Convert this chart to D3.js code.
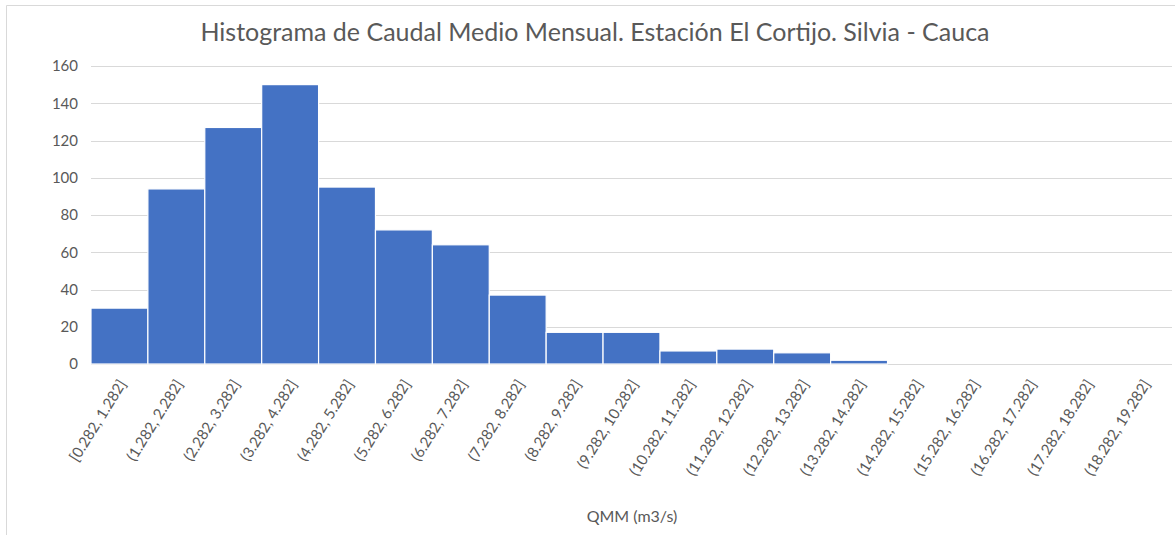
<!DOCTYPE html>
<meta charset="utf-8">
<script src="https://d3js.org/d3.v7.min.js"></script>
<style>
body { margin: 0; background: #fff; }
svg { font-family: "Lato", "Open Sans", sans-serif; }
</style>
<svg id="chart" width="1175" height="535"></svg>
<script>
// bin labels and counts
const bins = ["[0.282, 1.282]", "(1.282, 2.282]", "(2.282, 3.282]", "(3.282, 4.282]",
  "(4.282, 5.282]", "(5.282, 6.282]", "(6.282, 7.282]", "(7.282, 8.282]",
  "(8.282, 9.282]", "(9.282, 10.282]", "(10.282, 11.282]", "(11.282, 12.282]",
  "(12.282, 13.282]", "(13.282, 14.282]", "(14.282, 15.282]", "(15.282, 16.282]",
  "(16.282, 17.282]", "(17.282, 18.282]", "(18.282, 19.282]"];
const counts = [30, 94, 127, 150, 95, 72, 64, 37, 17, 17, 7, 8, 6, 2, 0, 0, 0, 0, 0];
const yTicks = [0, 20, 40, 60, 80, 100, 120, 140, 160];

const svg = d3.select("#chart");
const margin = {top: 66, left: 91, right: 3, bottom: 171};
const width = 1175, height = 535;

// chart border (only top and left visible in the crop)
svg.append("path")
  .attr("d", `M6.5,${height} V5.5 H${width}`)
  .attr("fill", "none").attr("stroke", "#d9d9d9");

const x = d3.scaleBand()
  .domain(bins)
  .range([margin.left, width - margin.right])
  .padding(0);

const y = d3.scaleLinear()
  .domain([0, 160])
  .range([height - margin.bottom, margin.top]);

// gridlines
svg.append("g")
  .selectAll("line")
  .data(yTicks)
  .join("line")
  .attr("x1", margin.left).attr("x2", width - margin.right)
  .attr("y1", d => Math.round(y(d)) + 0.5).attr("y2", d => Math.round(y(d)) + 0.5)
  .attr("stroke", "#d9d9d9").attr("stroke-width", 1);

// y labels
svg.append("g")
  .selectAll("text")
  .data(yTicks)
  .join("text")
  .attr("x", 78)
  .attr("y", d => y(d))
  .attr("dy", "0.35em")
  .attr("text-anchor", "end")
  .attr("fill", "#595959")
  .style("font-size", "15px")
  .text(d => d);

// bars
svg.append("g")
  .selectAll("rect")
  .data(counts)
  .join("rect")
  .attr("x", (d, i) => x(bins[i]))
  .attr("y", d => y(d))
  .attr("width", x.bandwidth())
  .attr("height", d => y(0) - y(d))
  .attr("fill", "#4472C4")
  .attr("stroke", "#fff")
  .attr("stroke-width", 1.2);

// x labels, rotated
svg.append("g")
  .selectAll("text")
  .data(bins)
  .join("text")
  .attr("transform", d => `translate(${x(d) + x.bandwidth() / 2 + 3},${y(0) + 17}) rotate(-58)`)
  .attr("text-anchor", "end")
  .attr("dy", "0.35em")
  .attr("fill", "#595959")
  .style("font-size", "15px")
  .text(d => d);

// title
svg.append("text")
  .attr("x", 595).attr("y", 41)
  .attr("text-anchor", "middle")
  .attr("fill", "#595959")
  .style("font-size", "25px")
  .text("Histograma de Caudal Medio Mensual. Estación El Cortijo. Silvia - Cauca");

// x axis title
svg.append("text")
  .attr("x", 632).attr("y", 522)
  .attr("text-anchor", "middle")
  .attr("fill", "#595959")
  .style("font-size", "16px")
  .text("QMM (m3/s)");
</script>
